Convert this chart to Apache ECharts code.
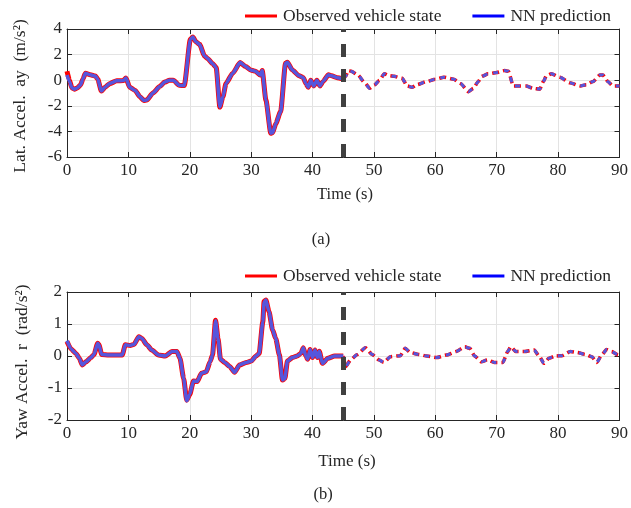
<!DOCTYPE html>
<html><head><meta charset="utf-8">
<script src="https://cdn.jsdelivr.net/npm/echarts/dist/echarts.min.js"></script>
<style>html,body{margin:0;padding:0;background:#fff}#c{width:631px;height:508px}</style>
</head><body><div id="c"></div>
<script>
// ---- data (a): lateral acceleration ----
const timeA = [0,0.4,0.8,1.2,1.7,2.2,2.6,3.0,3.8,4.6,5.0,5.6,6.2,7.0,8.1,9.2,9.6,10.2,11.1,11.9,12.5,13.0,14.0,15.1,15.9,16.7,17.3,18.3,19.1,20.1,20.5,21.0,21.6,22.4,22.9,23.7,24.3,24.9,25.4,25.9,27.0,28.2,29.1,29.9,30.7,31.5,31.8,32.4,33.2,33.5,34.0,34.8,35.6,35.9,36.7,37.8,38.5,38.9,39.3,39.7,40.2,40.7,41.2,41.7,42.6,43.1,44.0,45.0,
  45.4,45.8,46.3,47.4,48.5,49.3,50.1,50.9,51.7,52.5,53.3,54.6,55.4,56.2,57.0,58.6,60.0,61.4,63.0,64.1,65.4,66.2,67.0,67.6,68.6,70.0,71.3,71.9,72.7,73.8,74.8,75.9,77.0,77.6,78.1,78.9,80.3,81.9,83.6,84.6,85.7,86.8,87.3,88.1,88.9,90.0];
const obsA = [0.7,0.0,-0.6,-0.7,-0.6,-0.37,0.1,0.55,0.42,0.32,0.1,-0.85,-0.55,-0.25,-0.05,-0.03,0.18,-0.55,-0.8,-1.3,-1.58,-1.55,-1.0,-0.5,-0.15,0.0,0.0,-0.4,-0.42,3.2,3.37,3.0,2.8,1.9,1.7,1.3,1.0,-2.1,-1.3,-0.25,0.55,1.38,1.07,0.8,0.7,0.4,0.75,-1.55,-4.15,-4.1,-3.4,-2.45,1.33,1.4,0.8,0.35,0.2,-0.25,-0.55,0.0,-0.45,0.0,-0.45,-0.1,0.42,0.35,0.2,0.1,
  0.3,0.75,0.7,0.4,-0.2,-0.63,-0.37,0.0,0.5,0.35,0.3,0.15,-0.45,-0.55,-0.35,-0.1,0.08,0.23,0.08,-0.25,-0.9,-0.63,-0.1,0.3,0.5,0.6,0.75,0.7,-0.45,-0.45,-0.45,-0.63,-0.7,-0.1,0.35,0.5,0.23,-0.2,-0.45,-0.35,-0.1,0.4,0.4,-0.1,-0.45,-0.45];
const predA = [0.4,-0.1,-0.6,-0.7,-0.6,-0.37,0.1,0.55,0.42,0.32,0.1,-0.85,-0.55,-0.25,-0.05,-0.03,0.18,-0.55,-0.8,-1.3,-1.58,-1.55,-1.0,-0.5,-0.15,0.0,0.0,-0.4,-0.42,3.2,3.37,3.0,2.8,1.9,1.7,1.3,1.0,-2.1,-1.3,-0.25,0.55,1.38,1.07,0.8,0.7,0.4,0.75,-1.55,-4.15,-4.1,-3.4,-2.45,1.33,1.4,0.8,0.35,0.2,-0.25,-0.55,0.0,-0.45,0.0,-0.45,-0.1,0.42,0.35,0.2,0.1,
  0.3,0.75,0.7,0.4,-0.2,-0.63,-0.37,0.0,0.5,0.35,0.3,0.15,-0.45,-0.55,-0.35,-0.1,0.08,0.23,0.08,-0.25,-0.9,-0.63,-0.1,0.3,0.5,0.6,0.75,0.7,-0.45,-0.45,-0.45,-0.63,-0.7,-0.1,0.35,0.5,0.23,-0.2,-0.45,-0.35,-0.1,0.4,0.4,-0.1,-0.45,-0.45];

// ---- data (b): yaw acceleration ----
const timeB = [0,0.65,1.45,2.0,2.5,3.1,3.9,4.4,5.0,5.2,5.65,6.8,9.0,9.5,10.3,10.9,11.7,12.2,13.0,13.8,14.9,16.0,17.1,17.9,18.4,19.0,19.5,20.0,20.6,21.2,21.9,22.7,23.3,23.7,24.2,24.6,25.0,25.7,26.5,27.3,28.1,29.2,30.0,30.8,31.3,31.9,32.1,32.4,32.9,33.5,34.0,34.6,35.1,35.5,35.9,36.7,37.5,38.1,38.5,38.9,39.2,39.6,40.0,40.4,40.8,41.1,41.6,42.5,43.6,45.0,
  45.4,46.2,47.3,48.6,49.7,50.8,51.6,52.7,54.3,55.1,55.9,57.3,58.6,60.2,61.8,63.4,64.8,65.6,66.4,67.5,68.5,69.6,71.0,71.8,72.3,73.1,74.5,76.1,76.9,77.7,78.5,79.6,80.6,82.0,83.1,84.4,85.5,86.3,87.1,87.9,88.7,89.8,90.0];
const obsB = [0.45,0.22,0.08,-0.07,-0.28,-0.18,-0.05,0.05,0.4,0.35,0.05,0.03,0.03,0.35,0.33,0.36,0.6,0.55,0.35,0.19,0.03,0.0,0.14,0.14,-0.07,-0.7,-1.38,-1.2,-0.78,-0.8,-0.54,-0.49,-0.18,0.03,1.12,0.55,-0.1,-0.2,-0.33,-0.51,-0.28,-0.2,-0.16,0.0,0.08,1.07,1.7,1.75,1.39,0.81,0.55,0.03,-0.75,-0.7,-0.16,-0.05,0.0,0.08,0.26,0.0,-0.1,0.2,-0.05,0.19,-0.05,0.15,-0.23,-0.07,0.0,0.0,
  -0.33,-0.12,0.05,0.26,0.05,-0.12,-0.2,-0.02,0.01,0.24,0.11,0.05,0.0,-0.05,0.03,0.14,0.29,0.24,0.0,-0.18,-0.12,-0.2,-0.2,0.14,0.29,0.14,0.14,0.19,0.0,-0.23,-0.07,0.0,0.01,0.14,0.11,0.05,-0.02,-0.2,0.03,0.2,0.14,0.03,0.03];
const predB = [0.48,0.22,0.08,-0.07,-0.28,-0.18,-0.05,0.05,0.4,0.35,0.05,0.03,0.03,0.35,0.33,0.36,0.6,0.55,0.35,0.19,0.03,0.0,0.14,0.14,-0.07,-0.7,-1.4,-1.2,-0.78,-0.8,-0.54,-0.49,-0.18,0.03,1.1,0.55,-0.1,-0.2,-0.33,-0.51,-0.28,-0.2,-0.16,0.0,0.08,1.07,1.68,1.75,1.39,0.81,0.55,0.03,-0.75,-0.7,-0.16,-0.05,0.0,0.08,0.26,0.0,-0.1,0.2,-0.05,0.19,-0.05,0.15,-0.23,-0.07,0.0,0.0,
  -0.33,-0.12,0.05,0.26,0.05,-0.12,-0.2,-0.02,0.01,0.24,0.11,0.05,0.0,-0.05,0.03,0.14,0.29,0.24,0.0,-0.18,-0.12,-0.2,-0.2,0.14,0.29,0.14,0.14,0.19,0.0,-0.23,-0.07,0.0,0.01,0.14,0.11,0.05,-0.02,-0.2,0.03,0.2,0.14,0.03,0.03];

const xTicks = [0,10,20,30,40,50,60,70,80,90];
const yTicksA = [-6,-4,-2,0,2,4];
const yTicksB = [-2,-1,0,1,2];
const splitTime = 45;
const seriesNames = ['Observed vehicle state','NN prediction'];
const yTitles = ['Lat. Accel.  ay  (m/s\u00B2)','Yaw Accel.  r  (rad/s\u00B2)'];
const xTitle = 'Time (s)';
const captions = ['(a)','(b)'];

// ---- build ----
const FONT = '"Liberation Serif","Times New Roman",serif';
const INK = '#262626';
const panels = [
  {t: timeA, obs: obsA, pred: predA, yt: yTicksA, grid: {left: 67, top: 29, width: 556, height: 128}},
  {t: timeB, obs: obsB, pred: predB, yt: yTicksB, grid: {left: 67, top: 292, width: 557, height: 128}}
];
function pairs(t, v, keep) { return t.map((x, i) => [x, v[i]]).filter(p => keep(p[0])); }
const grids = [], xAxes = [], yAxes = [], series = [];
panels.forEach((p, gi) => {
  grids.push(Object.assign({containLabel: false}, p.grid));
  const xmin = xTicks[0], xmax = xTicks[xTicks.length - 1], xint = xTicks[1] - xTicks[0];
  const ymin = p.yt[0], ymax = p.yt[p.yt.length - 1], yint = p.yt[1] - p.yt[0];
  const lineS = {show: true, onZero: false, lineStyle: {color: INK, width: 1}};
  const tickS = {show: true, inside: true, length: 5, lineStyle: {color: INK, width: 1}};
  xAxes.push({type: 'value', gridIndex: gi, min: xmin, max: xmax, interval: xint, position: 'bottom',
    axisLine: lineS, axisTick: tickS,
    axisLabel: {color: INK, fontFamily: FONT, fontSize: 17, margin: 5},
    splitLine: {show: true, lineStyle: {color: '#e3e3e3', width: 1}}});
  xAxes.push({type: 'value', gridIndex: gi, min: xmin, max: xmax, interval: xint, position: 'top',
    axisLine: lineS, axisTick: tickS, axisLabel: {show: false}, splitLine: {show: false}});
  yAxes.push({type: 'value', gridIndex: gi, min: ymin, max: ymax, interval: yint, position: 'left',
    axisLine: lineS, axisTick: tickS,
    axisLabel: {color: INK, fontFamily: FONT, fontSize: 17, margin: 5},
    splitLine: {show: true, lineStyle: {color: '#e3e3e3', width: 1}}});
  yAxes.push({type: 'value', gridIndex: gi, min: ymin, max: ymax, interval: yint, position: 'right',
    axisLine: lineS, axisTick: tickS, axisLabel: {show: false}, splitLine: {show: false}});
  const xi = gi * 2, yi = gi * 2;
  const solid = x => x <= splitTime, dashed = x => x >= splitTime;
  const common = {type: 'line', xAxisIndex: xi, yAxisIndex: yi, showSymbol: false, symbol: 'none',
    smooth: 0.2, smoothMonotone: 'x', animation: false, silent: true};
  series.push(Object.assign({}, common, {name: seriesNames[0], data: pairs(p.t, p.obs, solid), z: 2,
    itemStyle: {color: '#ff0000'}, lineStyle: {color: '#ff0000', width: 5}}));
  series.push(Object.assign({}, common, {name: seriesNames[1], data: pairs(p.t, p.pred, solid), z: 3,
    itemStyle: {color: '#0000ff'}, lineStyle: {color: '#5656dc', width: 3.5, opacity: 1}}));
  series.push(Object.assign({}, common, {name: seriesNames[0], data: pairs(p.t, p.obs, dashed), z: 2,
    itemStyle: {color: '#ff0000'}, lineStyle: {color: '#ff0000', width: 3.5, type: [7, 4]}}));
  series.push(Object.assign({}, common, {name: seriesNames[1], data: pairs(p.t, p.pred, dashed), z: 3,
    itemStyle: {color: '#0000ff'}, lineStyle: {color: '#5656dc', width: 3, type: [5, 6], dashOffset: -1, opacity: 1},
    markLine: {silent: true, symbol: ['none', 'none'], animation: false, label: {show: false},
      lineStyle: {color: '#404040', width: 5, type: [13, 12], opacity: 1},
      data: [{xAxis: splitTime}]}}));
});

const legends = [7, 267].map(top => ({
  top: top, left: 245, orient: 'horizontal', padding: 0, itemWidth: 32, itemHeight: 3, itemGap: 31,
  icon: 'rect', selectedMode: false,
  textStyle: {color: INK, fontFamily: FONT, fontSize: 17.5, padding: [0, 0, 0, 1]},
  data: seriesNames.map(n => ({name: n}))
}));

const tStyle = (s, fs) => ({text: s, fill: INK, font: fs + 'px ' + FONT, textAlign: 'center', textVerticalAlign: 'middle'});
const graphics = [
  {type: 'text', x: 20, y: 96, rotation: Math.PI / 2, style: tStyle(yTitles[0], 17.5)},
  {type: 'text', x: 22, y: 362, rotation: Math.PI / 2, style: tStyle(yTitles[1], 17.5)},
  {type: 'text', x: 345, y: 195, style: tStyle(xTitle, 16.5)},
  {type: 'text', x: 347, y: 462, style: tStyle(xTitle, 17)},
  {type: 'text', x: 321, y: 240, style: tStyle(captions[0], 16.5)},
  {type: 'text', x: 323, y: 495, style: tStyle(captions[1], 16.5)}
];

const chart = echarts.init(document.getElementById('c'), null, {renderer: 'canvas'});
chart.setOption({
  backgroundColor: '#ffffff',
  animation: false,
  grid: grids, xAxis: xAxes, yAxis: yAxes, series: series,
  legend: legends, graphic: graphics
});
</script></body></html>
